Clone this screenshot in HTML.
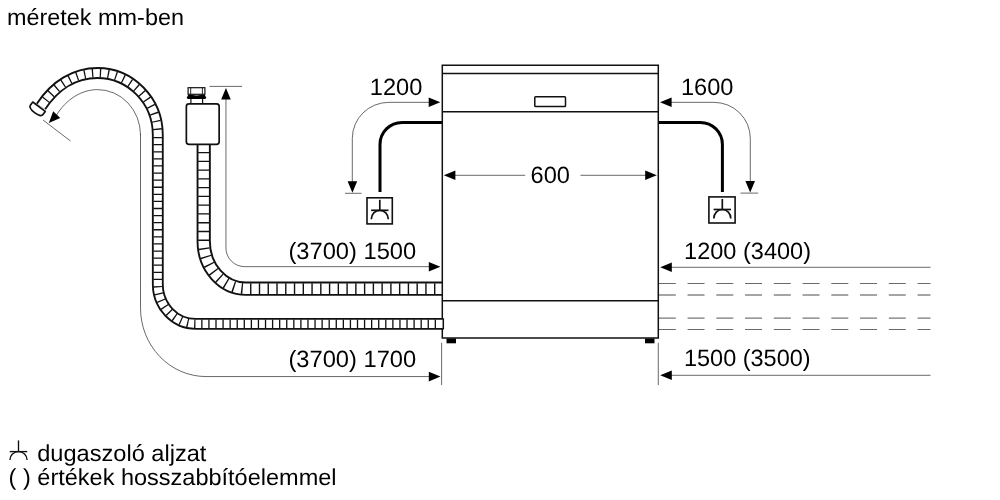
<!DOCTYPE html>
<html lang="hu">
<head>
<meta charset="utf-8">
<title>méretek mm-ben</title>
<style>
html,body{margin:0;padding:0;background:#fff;}
body{width:1000px;height:500px;overflow:hidden;font-family:"Liberation Sans",Arial,sans-serif;}
svg{display:block;}
svg text{text-rendering:geometricPrecision;}
.t{opacity:0.999;}
</style>
</head>
<body>
<svg width="1000" height="500" viewBox="0 0 1000 500">
<rect width="1000" height="500" fill="#fff"/>
<g class="t" font-family="'Liberation Sans', Arial, sans-serif" font-size="23" fill="#000">
<text font-size="23" transform="translate(7.0 24.6) scale(1.018 1)">méretek mm-ben</text>
<text font-size="23.6" transform="translate(369.8 94.7) scale(1.0 1)">1200</text>
<text font-size="23.6" transform="translate(681 94.7) scale(1.0 1)">1600</text>
<text font-size="23.6" transform="translate(530.6 183.4) scale(1.0 1)">600</text>
<text font-size="23.6" transform="translate(288.4 259.4) scale(1.004 1)">(3700) 1500</text>
<text font-size="23.6" transform="translate(288.4 366.9) scale(1.004 1)">(3700) 1700</text>
<text font-size="23.6" transform="translate(684.1 259.3) scale(0.997 1)">1200 (3400)</text>
<text font-size="23.6" transform="translate(684 366.3) scale(0.995 1)">1500 (3500)</text>
<text font-size="23" transform="translate(37.2 460.6) scale(1.026 1)">dugaszoló aljzat</text>
<text font-size="23" transform="translate(8.6 485.1) scale(1.022 1)">( ) értékek hosszabbítóelemmel</text>
</g>
<g fill="none" stroke="#2a2a2a" stroke-width="0.7">
<path d="M454 175.3 H525.2"/><path d="M580.5 175.3 H647"/>
<path d="M441.6 342.8 V385"/><path d="M658.3 342.8 V385"/>
<path d="M225.95 99 V248 A18.7 18.65 0 0 0 244.65 266.65 H431"/>
<path d="M140.5 134 V308 A65.5 68.55 0 0 0 206 376.55 H431"/>
<path d="M209.5 86.4 H242"/>
<path d="M140.5 135 A43 45.4 0 0 0 97.5 89.6 C82 89.6 66 99 56 116"/>
<path d="M43 120 L70.5 141"/>
<path d="M430 102.35 H388.8 A36.5 36 0 0 0 352.3 138.35 V182"/>
<path d="M345 193.3 H361.5"/>
<path d="M671 102.35 H714 A36.3 36 0 0 1 750.3 138.35 V182"/>
<path d="M740.5 193.1 H758.2"/>
<path d="M670 267.3 H930.5"/>
<path d="M670 375.3 H930.5"/>
</g>
<g fill="none" stroke="#2a2a2a" stroke-width="0.7" stroke-dasharray="17 11.75">
<path d="M658.8 283.5 H930.5" stroke-width="0.7"/>
<path d="M658.8 295.0 H930.5" stroke-width="0.85"/>
<path d="M658.8 318.1 H930.5" stroke-width="0.8"/>
<path d="M658.8 329.5 H930.5" stroke-width="0.7"/>
</g>
<path d="M0 0 L-11.6 -4.8 L-11.6 4.8 Z" fill="#000" transform="translate(443.8 175.3) rotate(180)"/>
<path d="M0 0 L-11.6 -4.8 L-11.6 4.8 Z" fill="#000" transform="translate(656.8 175.3) rotate(0)"/>
<path d="M0 0 L-11.6 -4.8 L-11.6 4.8 Z" fill="#000" transform="translate(440.3 102.3) rotate(0)"/>
<path d="M0 0 L-11.6 -4.8 L-11.6 4.8 Z" fill="#000" transform="translate(660 102.3) rotate(180)"/>
<path d="M0 0 L-11.6 -4.8 L-11.6 4.8 Z" fill="#000" transform="translate(352.4 192.8) rotate(90)"/>
<path d="M0 0 L-11.6 -4.8 L-11.6 4.8 Z" fill="#000" transform="translate(750.2 192.6) rotate(90)"/>
<path d="M0 0 L-11.6 -4.8 L-11.6 4.8 Z" fill="#000" transform="translate(440.4 266.7) rotate(0)"/>
<path d="M0 0 L-11.6 -4.8 L-11.6 4.8 Z" fill="#000" transform="translate(440.4 376.6) rotate(0)"/>
<path d="M0 0 L-11.6 -4.8 L-11.6 4.8 Z" fill="#000" transform="translate(660.2 267.3) rotate(180)"/>
<path d="M0 0 L-11.6 -4.8 L-11.6 4.8 Z" fill="#000" transform="translate(660.2 375.3) rotate(180)"/>
<path d="M0 0 L-11.6 -4.8 L-11.6 4.8 Z" fill="#000" transform="translate(225.95 88.0) rotate(-90)"/>
<path d="M0 0 L-11.6 -4.8 L-11.6 4.8 Z" fill="#000" transform="translate(48.8 123.1) rotate(133)"/>
<g fill="none" stroke="#000" stroke-width="3">
<path d="M442 122.4 H402 A22 22 0 0 0 380 144.4 V191.9"/>
<path d="M658.5 122.4 H700.4 A22 22 0 0 1 722.4 144.4 V191.9"/>
</g>
<rect x="367" y="197.8" width="25.3" height="26.1" fill="none" stroke="#111" stroke-width="1.6"/>
<g fill="none" stroke="#111" stroke-width="1.7"><path d="M379.8 199.8 V210.3"/><path d="M371.1 210.3 H388.5"/><path d="M371.3 219.3 A8.5 9.0 0 0 1 388.3 219.3"/></g>
<rect x="708.9" y="196.9" width="26.2" height="26.1" fill="none" stroke="#111" stroke-width="1.6"/>
<g fill="none" stroke="#111" stroke-width="1.7"><path d="M722.3 199 V209.5"/><path d="M713.6 209.5 H731.0"/><path d="M713.8 218.5 A8.5 9.0 0 0 1 730.8 218.5"/></g>
<g fill="none" stroke="#111" stroke-width="1.35"><path d="M18.5 440.4 V451.6"/><path d="M9.7 451.6 H27.3"/><path d="M9.9 460.0 A8.6 8.4 0 0 1 27.1 460.0"/></g>
<path d="M442.4 288.7 H246 A42.3 47.5 0 0 1 203.7 241 V144" fill="none" stroke="#111" stroke-width="14.2"/><path d="M442.4 288.7 H246 A42.3 47.5 0 0 1 203.7 241 V144" fill="none" stroke="#fff" stroke-width="10.4"/><path d="M442.4 288.7 H246" fill="none" stroke="#111" stroke-width="11.0" stroke-dasharray="1.4 7.36" stroke-dashoffset="1.76"/><path d="M246 288.7 A42.3 47.5 0 0 1 203.7 241" fill="none" stroke="#111" stroke-width="11.0" stroke-dasharray="1.4 7.02" stroke-dashoffset="5.1"/><path d="M203.7 241 V144" fill="none" stroke="#111" stroke-width="11.0" stroke-dasharray="1.4 7.36" stroke-dashoffset="8.66"/>
<path d="M442.4 323.9 H195.8 A38 39.6 0 0 1 157.8 284 V135 A60.5 62 0 0 0 97.5 73 C75 73 55 85 41 106.5" fill="none" stroke="#111" stroke-width="11.8"/><path d="M442.4 323.9 H195.8 A38 39.6 0 0 1 157.8 284 V135 A60.5 62 0 0 0 97.5 73 C75 73 55 85 41 106.5" fill="none" stroke="#fff" stroke-width="8.1"/><path d="M442.4 323.9 H195.8" fill="none" stroke="#111" stroke-width="8.7" stroke-dasharray="1.3 5.775" stroke-dashoffset="0.65"/><path d="M195.8 323.9 A38 39.6 0 0 1 157.8 284" fill="none" stroke="#111" stroke-width="8.7" stroke-dasharray="1.3 5.87" stroke-dashoffset="6.82"/><path d="M157.8 284 V135" fill="none" stroke="#111" stroke-width="8.7" stroke-dasharray="1.3 5.79" stroke-dashoffset="3.14"/><path d="M157.8 135 A60.5 62 0 0 0 97.5 73 C76.80 73.00 58.22 83.16 44.47 101.52" fill="none" stroke="#111" stroke-width="8.7" stroke-dasharray="1.3 6.6" stroke-dashoffset="2.6"/>
<path d="M3.2 -7.8 V7.8 H-0.6 C-3.2 7.8 -4.2 3.8 -4.2 0 C-4.2 -3.8 -3.2 -7.8 -0.6 -7.8 Z" fill="#fff" stroke="#111" stroke-width="1.7" stroke-linejoin="round" transform="translate(37.1 109.3) rotate(-53)"/>
<rect x="186.35" y="103.8" width="32.8" height="40.6" rx="2.6" fill="#fff" stroke="#111" stroke-width="1.7"/>
<path d="M190.9 98 V103.4 M202.6 98 V103.4" stroke="#111" stroke-width="1.2" fill="none"/>
<path d="M188.4 94.6 Q196.5 96.2 204.6 94.6 L206.3 97.7 L205.3 99 H187.7 L186.7 97.7 Z" fill="#000"/>
<rect x="188.1" y="87.7" width="16.8" height="6.6" fill="#fff" stroke="#111" stroke-width="1.2"/>
<path d="M190.7 87.7 V94.3 M202.4 87.7 V94.3" stroke="#111" stroke-width="0.9" fill="none"/>
<g fill="none" stroke="#111" stroke-width="1.5">
<path d="M442.3 65.3 H658.3 V338 H442.3 Z"/>
<path d="M442.3 73.6 H658.3"/>
<path d="M442.3 111.8 H658.3"/>
<path d="M442.3 300.8 H658.3"/>
<rect x="534.8" y="96.7" width="30.7" height="9.9" rx="0.8" stroke-width="1.5"/>
</g>
<rect x="446.5" y="338.5" width="9.5" height="4.8" fill="#000"/>
<rect x="645" y="338.5" width="9.5" height="4.8" fill="#000"/>
<path d="M441 318.93 H443.3 V328.87 H441" fill="#fff" stroke="#111" stroke-width="1.5"/>
</svg>
</body>
</html>
